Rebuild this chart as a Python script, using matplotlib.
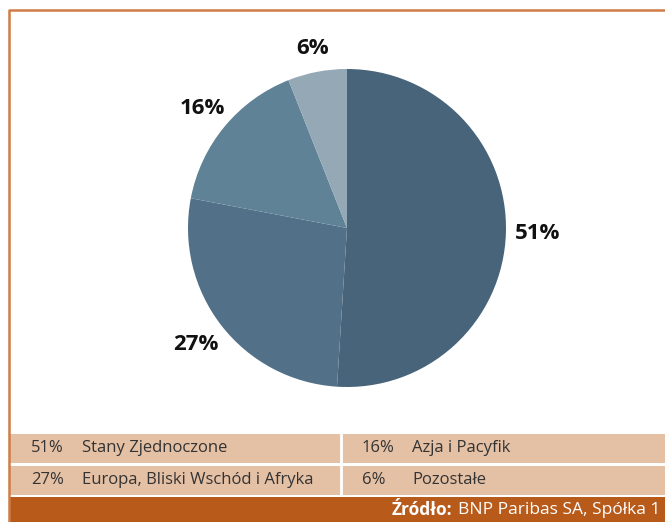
import matplotlib
matplotlib.use("Agg")
import matplotlib.pyplot as plt
from matplotlib.patches import Rectangle
import numpy as np

# data
regions = ["Stany Zjednoczone", "Europa, Bliski Wschód i Afryka", "Azja i Pacyfik", "Pozostałe"]
shares = [51, 27, 16, 6]
colors = ["#48647a", "#527189", "#5f8297", "#94a8b5"]
source_bold = "Źródło:"
source_text = "BNP Paribas SA, Spółka 1"

W, H = 665, 522
fig = plt.figure(figsize=(W / 100, H / 100), dpi=100)

# background layer in pixel coordinates (y down)
bg = fig.add_axes([0, 0, 1, 1])
bg.set_xlim(0, W)
bg.set_ylim(H, 0)
bg.axis("off")

orange = "#cf7c45"
bg.plot([9, 9, W], [H, 10, 10], color=orange, lw=1.8, solid_capstyle="butt")

# legend rows
row_bg = "#e4c0a5"
rows = [(434, 463), (466, 495)]
for (y0, y1) in rows:
    bg.add_patch(Rectangle((10, y0), W - 10, y1 - y0, color=row_bg, lw=0))
bg.plot([341, 341], [434, 495], color="white", lw=2)

# bottom source bar
bg.add_patch(Rectangle((9, 497), W - 9, H - 497, color="#b85a1a", lw=0))

# legend entries: column-major (left col: 0,1 ; right col: 2,3)
txt_kw = dict(fontsize=12, color="#333333", va="center", family="Open Sans")
cols = [(31, 82), (362, 412)]
for i, (name, val) in enumerate(zip(regions, shares)):
    col = i // 2
    r = i % 2
    yc = (rows[r][0] + rows[r][1]) / 2
    xp, xn = cols[col]
    bg.text(xp, yc, f"{val}%", **txt_kw)
    bg.text(xn, yc, name, **txt_kw)

t2 = bg.text(660, 510, source_text, fontsize=12.5, color="white", ha="right",
             va="center", family="Open Sans")
fig.canvas.draw()
bb = t2.get_window_extent()
bg.text(bb.x0 - 5, 510, source_bold, fontsize=12.5, color="white", ha="right",
        va="center", family="Open Sans", fontweight="bold")

# pie
cx, cy, r = 347, 228, 159
ax = fig.add_axes([(cx - r) / W, (H - cy - r) / H, 2 * r / W, 2 * r / H])
wedges, texts, autotexts = ax.pie(
    shares, colors=colors, startangle=90, counterclock=False,
    autopct=lambda p: f"{p:.0f}%", pctdistance=1.2,
    wedgeprops=dict(linewidth=0),
    textprops=dict(fontsize=16, fontweight="bold", color="#111111", family="Open Sans"),
)
# pull the small-slice labels slightly closer to the pie
label_dist = [1.2, 1.2, 1.18, 1.15]
for w, t, d in zip(wedges, autotexts, label_dist):
    ang = np.deg2rad((w.theta1 + w.theta2) / 2)
    t.set_position((d * np.cos(ang), d * np.sin(ang)))
ax.set_xlim(-1, 1)
ax.set_ylim(-1, 1)
ax.set_aspect("equal")
ax.axis("off")

fig.savefig("out.png", dpi=100)
